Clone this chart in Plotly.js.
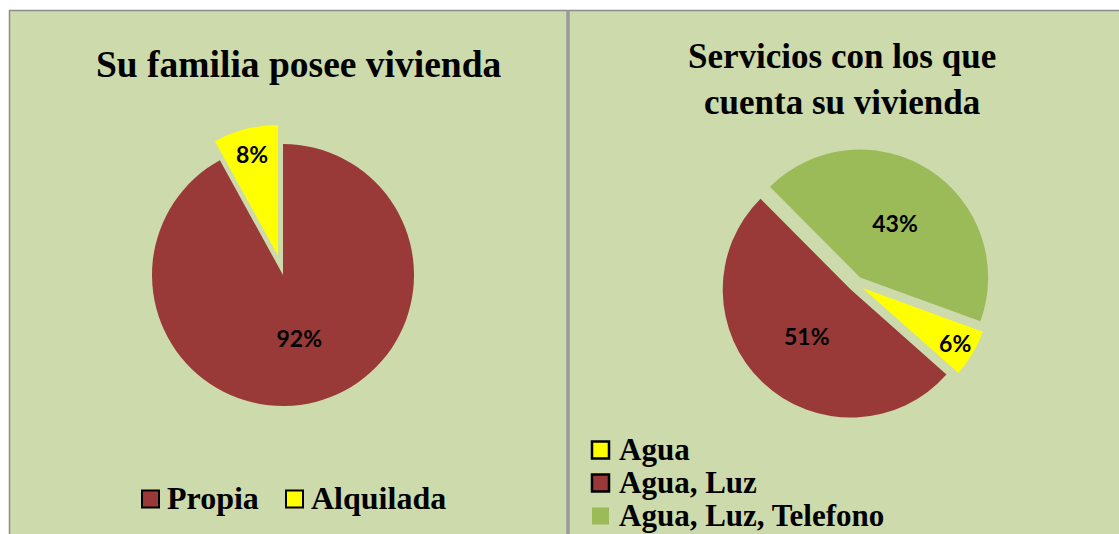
<!DOCTYPE html>
<html>
<head>
<meta charset="utf-8">
<script src="https://cdn.plot.ly/plotly-3.0.1.min.js"></script>
<style>
  html, body { margin: 0; padding: 0; background: #ffffff; }
  #chart { width: 1119px; height: 534px; }
</style>
</head>
<body>
<div id="chart"></div>
<script>
// ---- Data ----
const leftTitle = 'Su familia posee vivienda';
const leftLabels = ['Propia', 'Alquilada'];
const leftValues = [92, 8];

const rightTitle = 'Servicios con los que<br>cuenta su vivienda';
const rightLabels = ['Agua', 'Agua, Luz', 'Agua, Luz, Telefono'];
const rightValues = [6, 51, 43];

// ---- Styles ----
const RED = '#993a38', YEL = '#ffff00', GRN = '#9bbb59';
const leftColors = [RED, YEL];
const rightColors = [YEL, RED, GRN];
const leftPull = [0, 0.15];
const rightPull = [0.06, 0.06, 0.06];
const rightLegendBorder = ['#000000', '#000000', 'rgba(0,0,0,0)'];
const leftLegendBorder = ['#000000', '#000000'];

const W = 1119, H = 534;
const fx = x => x / W;
const fy = y => 1 - y / H;

function pieDomain(cx, cy, r, maxPull) {
  const half = r * (1 + maxPull);
  return { x: [fx(cx - half), fx(cx + half)], y: [fy(cy + half), fy(cy - half)] };
}

const serif = 'Liberation Serif, Times New Roman, serif';
const labelFont = { family: 'Lato, Carlito, sans-serif', size: 23, color: '#000000', weight: 700 };

const traces = [
  {
    type: 'pie', labels: leftLabels, values: leftValues, sort: false,
    direction: 'clockwise', rotation: 0, pull: leftPull,
    marker: { colors: leftColors, line: { width: 0 } },
    textinfo: 'percent', textposition: 'inside', insidetextorientation: 'horizontal',
    textfont: labelFont, hoverinfo: 'none', showlegend: false,
    domain: pieDomain(283, 275, 131, 0.15)
  },
  {
    type: 'pie', labels: rightLabels, values: rightValues, sort: false,
    direction: 'clockwise', rotation: 110, pull: rightPull,
    marker: { colors: rightColors, line: { width: 0 } },
    textinfo: 'percent', textposition: 'inside', insidetextorientation: 'horizontal',
    textfont: labelFont, hoverinfo: 'none', showlegend: false,
    domain: pieDomain(856, 284, 128, 0.06)
  }
];

const shapes = [
  { type: 'rect', xref: 'paper', yref: 'paper', layer: 'below',
    x0: fx(9.5), x1: fx(1125), y0: fy(540), y1: fy(10.5),
    fillcolor: '#cddaab', line: { color: '#8c8c8c', width: 1.5 } },
  { type: 'line', xref: 'paper', yref: 'paper', layer: 'below',
    x0: fx(568), x1: fx(568), y0: fy(534), y1: fy(10.5),
    line: { color: '#999999', width: 3.5 } }
];

const annotations = [
  { text: '<b>' + leftTitle + '</b>', xref: 'paper', yref: 'paper',
    x: fx(298), y: fy(65), xanchor: 'center', yanchor: 'middle', showarrow: false,
    font: { family: serif, size: 37.5, color: '#000000' } },
  { text: '<b>' + rightTitle + '</b>', xref: 'paper', yref: 'paper',
    x: fx(842), y: fy(79), xanchor: 'center', yanchor: 'middle', showarrow: false,
    font: { family: serif, size: 35, color: '#000000' }, align: 'center' }
];

// ---- Legends (built from the label arrays) ----
const SQ = 17;
// left: horizontal
const leftLegendX = [142, 286];
leftLabels.forEach((lab, i) => {
  const x0 = leftLegendX[i], yc = 499;
  shapes.push({ type: 'rect', xref: 'paper', yref: 'paper',
    x0: fx(x0), x1: fx(x0 + SQ), y0: fy(yc + SQ / 2), y1: fy(yc - SQ / 2),
    fillcolor: leftColors[i], line: { color: leftLegendBorder[i], width: 2 } });
  annotations.push({ text: '<b>' + lab + '</b>', xref: 'paper', yref: 'paper',
    x: fx(x0 + SQ + 6), y: fy(yc - 1), xanchor: 'left', yanchor: 'middle', showarrow: false,
    font: { family: serif, size: 32, color: '#000000' } });
});
// right: vertical
rightLabels.forEach((lab, i) => {
  const x0 = 592, yc = 450 + i * 33;
  shapes.push({ type: 'rect', xref: 'paper', yref: 'paper',
    x0: fx(x0), x1: fx(x0 + SQ), y0: fy(yc + SQ / 2), y1: fy(yc - SQ / 2),
    fillcolor: rightColors[i], line: { color: rightLegendBorder[i], width: 2.5 } });
  annotations.push({ text: '<b>' + lab + '</b>', xref: 'paper', yref: 'paper',
    x: fx(617), y: fy(yc - 1), xanchor: 'left', yanchor: 'middle', showarrow: false,
    font: { family: serif, size: 31, color: '#000000' } });
});

const layout = {
  width: W, height: H,
  margin: { l: 0, r: 0, t: 0, b: 0, pad: 0 },
  paper_bgcolor: '#ffffff', plot_bgcolor: 'rgba(0,0,0,0)',
  showlegend: false,
  uniformtext: { mode: 'show', minsize: 23 },
  shapes: shapes, annotations: annotations
};

Plotly.newPlot('chart', traces, layout, { staticPlot: true, displayModeBar: false });
</script>
</body>
</html>
